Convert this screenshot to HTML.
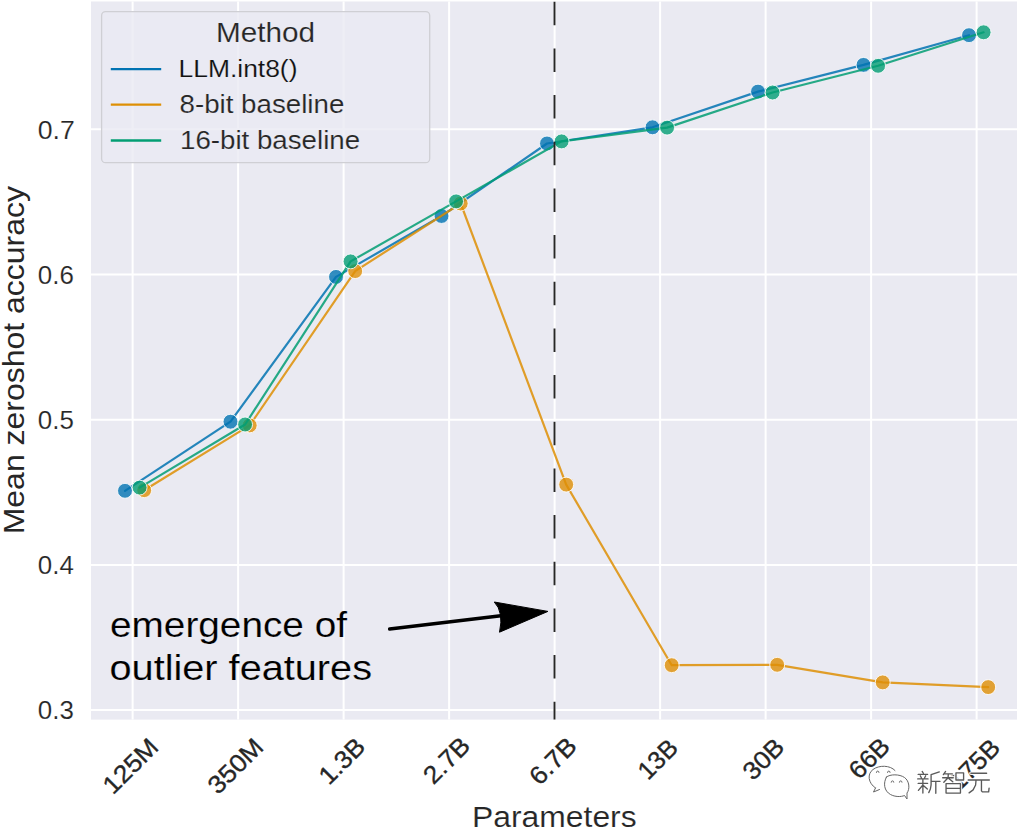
<!DOCTYPE html><html><head><meta charset="utf-8"><style>html,body{margin:0;padding:0;background:#fff;}svg{display:block;}</style></head><body>
<svg width="1024" height="828" viewBox="0 0 1024 828" font-family='"Liberation Sans", sans-serif'>
<rect x="0" y="0" width="1024" height="828" fill="#ffffff"/>
<rect x="91.0" y="1.5" width="926.0" height="718.1" fill="#EAEAF2"/>
<line x1="91.0" x2="1017.0" y1="710.10" y2="710.10" stroke="#fff" stroke-width="2"/>
<line x1="91.0" x2="1017.0" y1="564.90" y2="564.90" stroke="#fff" stroke-width="2"/>
<line x1="91.0" x2="1017.0" y1="419.70" y2="419.70" stroke="#fff" stroke-width="2"/>
<line x1="91.0" x2="1017.0" y1="274.50" y2="274.50" stroke="#fff" stroke-width="2"/>
<line x1="91.0" x2="1017.0" y1="129.30" y2="129.30" stroke="#fff" stroke-width="2"/>
<line x1="132.60" x2="132.60" y1="1.5" y2="719.6" stroke="#fff" stroke-width="2"/>
<line x1="238.10" x2="238.10" y1="1.5" y2="719.6" stroke="#fff" stroke-width="2"/>
<line x1="343.60" x2="343.60" y1="1.5" y2="719.6" stroke="#fff" stroke-width="2"/>
<line x1="449.10" x2="449.10" y1="1.5" y2="719.6" stroke="#fff" stroke-width="2"/>
<line x1="554.60" x2="554.60" y1="1.5" y2="719.6" stroke="#fff" stroke-width="2"/>
<line x1="660.10" x2="660.10" y1="1.5" y2="719.6" stroke="#fff" stroke-width="2"/>
<line x1="765.60" x2="765.60" y1="1.5" y2="719.6" stroke="#fff" stroke-width="2"/>
<line x1="871.10" x2="871.10" y1="1.5" y2="719.6" stroke="#fff" stroke-width="2"/>
<line x1="976.60" x2="976.60" y1="1.5" y2="719.6" stroke="#fff" stroke-width="2"/>
<path d="M125.00,490.80 L230.50,421.70 L336.00,276.90 L441.50,216.00 L547.00,143.50 L652.50,127.30 L758.00,91.60 L863.50,64.90 L969.00,35.20" fill="none" stroke="#0173B2" stroke-opacity="0.85" stroke-width="2.2" stroke-linejoin="round" stroke-linecap="round"/>
<circle cx="125.00" cy="490.80" r="7.45" fill="#0173B2" fill-opacity="0.8" stroke="#fff" stroke-opacity="0.85" stroke-width="1.0"/>
<circle cx="230.50" cy="421.70" r="7.45" fill="#0173B2" fill-opacity="0.8" stroke="#fff" stroke-opacity="0.85" stroke-width="1.0"/>
<circle cx="336.00" cy="276.90" r="7.45" fill="#0173B2" fill-opacity="0.8" stroke="#fff" stroke-opacity="0.85" stroke-width="1.0"/>
<circle cx="441.50" cy="216.00" r="7.45" fill="#0173B2" fill-opacity="0.8" stroke="#fff" stroke-opacity="0.85" stroke-width="1.0"/>
<circle cx="547.00" cy="143.50" r="7.45" fill="#0173B2" fill-opacity="0.8" stroke="#fff" stroke-opacity="0.85" stroke-width="1.0"/>
<circle cx="652.50" cy="127.30" r="7.45" fill="#0173B2" fill-opacity="0.8" stroke="#fff" stroke-opacity="0.85" stroke-width="1.0"/>
<circle cx="758.00" cy="91.60" r="7.45" fill="#0173B2" fill-opacity="0.8" stroke="#fff" stroke-opacity="0.85" stroke-width="1.0"/>
<circle cx="863.50" cy="64.90" r="7.45" fill="#0173B2" fill-opacity="0.8" stroke="#fff" stroke-opacity="0.85" stroke-width="1.0"/>
<circle cx="969.00" cy="35.20" r="7.45" fill="#0173B2" fill-opacity="0.8" stroke="#fff" stroke-opacity="0.85" stroke-width="1.0"/>
<path d="M144.20,490.20 L249.70,425.40 L355.20,271.10 L460.70,203.50 L566.20,484.60 L671.70,665.20 L777.20,664.80 L882.70,682.40 L988.20,687.10" fill="none" stroke="#DE8F05" stroke-opacity="0.85" stroke-width="2.2" stroke-linejoin="round" stroke-linecap="round"/>
<circle cx="144.20" cy="490.20" r="7.45" fill="#DE8F05" fill-opacity="0.8" stroke="#fff" stroke-opacity="0.85" stroke-width="1.0"/>
<circle cx="249.70" cy="425.40" r="7.45" fill="#DE8F05" fill-opacity="0.8" stroke="#fff" stroke-opacity="0.85" stroke-width="1.0"/>
<circle cx="355.20" cy="271.10" r="7.45" fill="#DE8F05" fill-opacity="0.8" stroke="#fff" stroke-opacity="0.85" stroke-width="1.0"/>
<circle cx="460.70" cy="203.50" r="7.45" fill="#DE8F05" fill-opacity="0.8" stroke="#fff" stroke-opacity="0.85" stroke-width="1.0"/>
<circle cx="566.20" cy="484.60" r="7.45" fill="#DE8F05" fill-opacity="0.8" stroke="#fff" stroke-opacity="0.85" stroke-width="1.0"/>
<circle cx="671.70" cy="665.20" r="7.45" fill="#DE8F05" fill-opacity="0.8" stroke="#fff" stroke-opacity="0.85" stroke-width="1.0"/>
<circle cx="777.20" cy="664.80" r="7.45" fill="#DE8F05" fill-opacity="0.8" stroke="#fff" stroke-opacity="0.85" stroke-width="1.0"/>
<circle cx="882.70" cy="682.40" r="7.45" fill="#DE8F05" fill-opacity="0.8" stroke="#fff" stroke-opacity="0.85" stroke-width="1.0"/>
<circle cx="988.20" cy="687.10" r="7.45" fill="#DE8F05" fill-opacity="0.8" stroke="#fff" stroke-opacity="0.85" stroke-width="1.0"/>
<path d="M139.60,487.60 L245.10,424.50 L350.60,261.40 L456.10,201.40 L561.60,141.40 L667.10,127.60 L772.60,92.50 L878.10,65.80 L983.60,32.30" fill="none" stroke="#029E73" stroke-opacity="0.85" stroke-width="2.2" stroke-linejoin="round" stroke-linecap="round"/>
<circle cx="139.60" cy="487.60" r="7.45" fill="#029E73" fill-opacity="0.8" stroke="#fff" stroke-opacity="0.85" stroke-width="1.0"/>
<circle cx="245.10" cy="424.50" r="7.45" fill="#029E73" fill-opacity="0.8" stroke="#fff" stroke-opacity="0.85" stroke-width="1.0"/>
<circle cx="350.60" cy="261.40" r="7.45" fill="#029E73" fill-opacity="0.8" stroke="#fff" stroke-opacity="0.85" stroke-width="1.0"/>
<circle cx="456.10" cy="201.40" r="7.45" fill="#029E73" fill-opacity="0.8" stroke="#fff" stroke-opacity="0.85" stroke-width="1.0"/>
<circle cx="561.60" cy="141.40" r="7.45" fill="#029E73" fill-opacity="0.8" stroke="#fff" stroke-opacity="0.85" stroke-width="1.0"/>
<circle cx="667.10" cy="127.60" r="7.45" fill="#029E73" fill-opacity="0.8" stroke="#fff" stroke-opacity="0.85" stroke-width="1.0"/>
<circle cx="772.60" cy="92.50" r="7.45" fill="#029E73" fill-opacity="0.8" stroke="#fff" stroke-opacity="0.85" stroke-width="1.0"/>
<circle cx="878.10" cy="65.80" r="7.45" fill="#029E73" fill-opacity="0.8" stroke="#fff" stroke-opacity="0.85" stroke-width="1.0"/>
<circle cx="983.60" cy="32.30" r="7.45" fill="#029E73" fill-opacity="0.8" stroke="#fff" stroke-opacity="0.85" stroke-width="1.0"/>
<line x1="554.5" x2="554.5" y1="1.5" y2="719.6" stroke="#262626" stroke-width="1.9" stroke-dasharray="23.5 23.16" stroke-dashoffset="-0.3"/>
<rect x="101.6" y="11.6" width="328.1" height="151.1" rx="4" fill="#EAEAF2" fill-opacity="0.8" stroke="#cfcfd4" stroke-width="1.3"/>
<line x1="110.8" x2="161.2" y1="69.1" y2="69.1" stroke="#0173B2" stroke-width="2.3"/>
<line x1="110.8" x2="161.2" y1="104.7" y2="104.7" stroke="#DE8F05" stroke-width="2.3"/>
<line x1="110.8" x2="161.2" y1="140.5" y2="140.5" stroke="#029E73" stroke-width="2.3"/>
<path d="M389.7,629 L503,615.5" stroke="#000" stroke-width="3.6" stroke-linecap="round"/>
<path d="M547.9,611.4 L494.3,602.0 Q504,612 499.5,632.2 Z" fill="#000" stroke="#000" stroke-width="1" stroke-linejoin="round"/>
<text x="216.00" y="41.90" font-size="27.63" fill="#262626" textLength="99.16" lengthAdjust="spacingAndGlyphs" stroke="#EAEAF2" stroke-width="0.15">Method</text>
<text x="178.50" y="76.70" font-size="24.84" fill="#111111" textLength="118.97" lengthAdjust="spacingAndGlyphs" stroke="#EAEAF2" stroke-width="0.15">LLM.int8()</text>
<text x="179.50" y="113.20" font-size="25.05" fill="#262626" textLength="164.80" lengthAdjust="spacingAndGlyphs" stroke="#EAEAF2" stroke-width="0.15">8-bit baseline</text>
<text x="180.00" y="148.70" font-size="25.05" fill="#262626" textLength="180.12" lengthAdjust="spacingAndGlyphs" stroke="#EAEAF2" stroke-width="0.15">16-bit baseline</text>
<text x="110.00" y="637.40" font-size="35.4" fill="#000000" textLength="237.01" lengthAdjust="spacingAndGlyphs" stroke="#EAEAF2" stroke-width="0.15">emergence of</text>
<text x="109.50" y="679.70" font-size="35.4" fill="#000000" textLength="262.51" lengthAdjust="spacingAndGlyphs" stroke="#EAEAF2" stroke-width="0.15">outlier features</text>
<text x="37.80" y="719.40" font-size="25.05" fill="#262626" textLength="36.03" lengthAdjust="spacingAndGlyphs" stroke="#ffffff" stroke-width="0.15">0.3</text>
<text x="37.80" y="574.20" font-size="25.05" fill="#262626" textLength="36.03" lengthAdjust="spacingAndGlyphs" stroke="#ffffff" stroke-width="0.15">0.4</text>
<text x="37.80" y="429.00" font-size="25.05" fill="#262626" textLength="36.03" lengthAdjust="spacingAndGlyphs" stroke="#ffffff" stroke-width="0.15">0.5</text>
<text x="37.80" y="283.80" font-size="25.05" fill="#262626" textLength="36.03" lengthAdjust="spacingAndGlyphs" stroke="#ffffff" stroke-width="0.15">0.6</text>
<text x="37.80" y="138.60" font-size="25.05" fill="#262626" textLength="37.03" lengthAdjust="spacingAndGlyphs" stroke="#ffffff" stroke-width="0.15">0.7</text>
<text transform="translate(24.40,534.30) rotate(-90)" font-size="29.7" fill="#262626" textLength="348.22" lengthAdjust="spacingAndGlyphs">Mean zeroshot accuracy</text>
<text x="472.00" y="827.00" font-size="29.7" fill="#262626" textLength="164.65" lengthAdjust="spacingAndGlyphs" stroke="#ffffff" stroke-width="0.15">Parameters</text>
<text transform="translate(113.00,795.50) rotate(-45)" font-size="25.05" fill="#262626" textLength="66.47" lengthAdjust="spacingAndGlyphs" stroke="#262626" stroke-width="0.35">125M</text>
<text transform="translate(218.00,795.50) rotate(-45)" font-size="25.05" fill="#262626" textLength="66.47" lengthAdjust="spacingAndGlyphs" stroke="#262626" stroke-width="0.35">350M</text>
<text transform="translate(329.00,786.00) rotate(-45)" font-size="25.05" fill="#262626" textLength="53.44" lengthAdjust="spacingAndGlyphs" stroke="#262626" stroke-width="0.35">1.3B</text>
<text transform="translate(433.50,785.50) rotate(-45)" font-size="25.05" fill="#262626" textLength="54.08" lengthAdjust="spacingAndGlyphs" stroke="#262626" stroke-width="0.35">2.7B</text>
<text transform="translate(539.50,786.50) rotate(-45)" font-size="25.05" fill="#262626" textLength="54.71" lengthAdjust="spacingAndGlyphs" stroke="#262626" stroke-width="0.35">6.7B</text>
<text transform="translate(648.00,781.00) rotate(-45)" font-size="25.05" fill="#262626" textLength="44.58" lengthAdjust="spacingAndGlyphs" stroke="#262626" stroke-width="0.35">13B</text>
<text transform="translate(753.00,781.50) rotate(-45)" font-size="25.05" fill="#262626" textLength="46.49" lengthAdjust="spacingAndGlyphs" stroke="#262626" stroke-width="0.35">30B</text>
<text transform="translate(859.00,780.50) rotate(-45)" font-size="25.05" fill="#262626" textLength="45.85" lengthAdjust="spacingAndGlyphs" stroke="#262626" stroke-width="0.35">66B</text>
<text transform="translate(959.00,792.00) rotate(-45)" font-size="25.05" fill="#262626" textLength="60.41" lengthAdjust="spacingAndGlyphs" stroke="#262626" stroke-width="0.35">175B</text>
<g fill="none" stroke-linecap="round" stroke-linejoin="round">
<path d="M875.5,788 C868,783 867,774 873,769.5 C879,765 890,765 895,770.5 M875.5,788 L873.5,792 L879.5,789.5 M886.5,777 C883,783 884,791 890.5,794.5 C895,797 901,797 904.5,795.5 L907,799 L907,793 C910,789 909.5,781 904.5,777.5 C899.5,774 890,774 886.5,777 Z" stroke="#ffffff" stroke-width="3.2" stroke-opacity="0.9"/>
<path d="M922.17,771.45 L923.35,773.25 M918.17,774.38 L927.58,774.38 M920.29,775.73 L921.47,777.98 M925.70,775.73 L924.52,777.98 M917.71,778.88 L928.04,778.88 M918.17,783.38 L927.58,783.38 M922.88,778.88 L922.88,793.05 M922.88,784.95 L918.41,790.35 M923.35,785.40 L927.34,789.00 M939.33,771.90 L931.10,774.60 M931.10,774.60 L931.10,784.95 L930.39,789.00 L928.75,792.60 M931.10,781.35 L940.03,781.35 M935.80,781.35 L935.80,793.27 M945.60,771.45 L943.35,774.60 M944.02,773.92 L952.35,773.92 M942.67,777.75 L953.25,777.75 M948.30,773.92 L948.08,777.75 L943.80,782.25 M948.75,778.42 L952.80,781.80 M955.95,772.80 L963.60,772.80 L963.60,780.00 L955.95,780.00 L955.95,772.80 M946.05,783.60 L960.45,783.60 L960.45,793.05 L946.05,793.05 L946.05,783.60 M946.05,788.33 L960.45,788.33 M970.88,773.25 L986.62,773.25 M968.17,780.00 L989.33,780.00 M976.05,780.00 L975.60,784.95 L973.12,789.90 L969.08,792.83 M981.45,780.00 L981.45,790.80 L982.35,791.92 L988.65,791.92 L989.10,788.10" stroke="#ffffff" stroke-width="3.6" stroke-opacity="0.95"/>
<path d="M875.5,788 C868,783 867,774 873,769.5 C879,765 890,765 895,770.5 M875.5,788 L873.5,792 L879.5,789.5 M886.5,777 C883,783 884,791 890.5,794.5 C895,797 901,797 904.5,795.5 L907,799 L907,793 C910,789 909.5,781 904.5,777.5 C899.5,774 890,774 886.5,777 Z" stroke="#666666" stroke-width="1.0"/>
<path d="M876.4,772.4 A1.3,1.3 0 0 1 879.0,772.4" stroke="#666666" stroke-width="1.0"/>
<path d="M887.5,772.4 A1.3,1.3 0 0 1 890.1,772.4" stroke="#666666" stroke-width="1.0"/>
<path d="M891.2,782.2 A1.3,1.3 0 0 1 893.8,782.2" stroke="#666666" stroke-width="1.0"/>
<path d="M899.4,782.2 A1.3,1.3 0 0 1 902.0,782.2" stroke="#666666" stroke-width="1.0"/>
<path d="M922.17,771.45 L923.35,773.25 M918.17,774.38 L927.58,774.38 M920.29,775.73 L921.47,777.98 M925.70,775.73 L924.52,777.98 M917.71,778.88 L928.04,778.88 M918.17,783.38 L927.58,783.38 M922.88,778.88 L922.88,793.05 M922.88,784.95 L918.41,790.35 M923.35,785.40 L927.34,789.00 M939.33,771.90 L931.10,774.60 M931.10,774.60 L931.10,784.95 L930.39,789.00 L928.75,792.60 M931.10,781.35 L940.03,781.35 M935.80,781.35 L935.80,793.27 M945.60,771.45 L943.35,774.60 M944.02,773.92 L952.35,773.92 M942.67,777.75 L953.25,777.75 M948.30,773.92 L948.08,777.75 L943.80,782.25 M948.75,778.42 L952.80,781.80 M955.95,772.80 L963.60,772.80 L963.60,780.00 L955.95,780.00 L955.95,772.80 M946.05,783.60 L960.45,783.60 L960.45,793.05 L946.05,793.05 L946.05,783.60 M946.05,788.33 L960.45,788.33 M970.88,773.25 L986.62,773.25 M968.17,780.00 L989.33,780.00 M976.05,780.00 L975.60,784.95 L973.12,789.90 L969.08,792.83 M981.45,780.00 L981.45,790.80 L982.35,791.92 L988.65,791.92 L989.10,788.10" stroke="#5a5a5a" stroke-width="1.35"/>
</g>
</svg></body></html>
